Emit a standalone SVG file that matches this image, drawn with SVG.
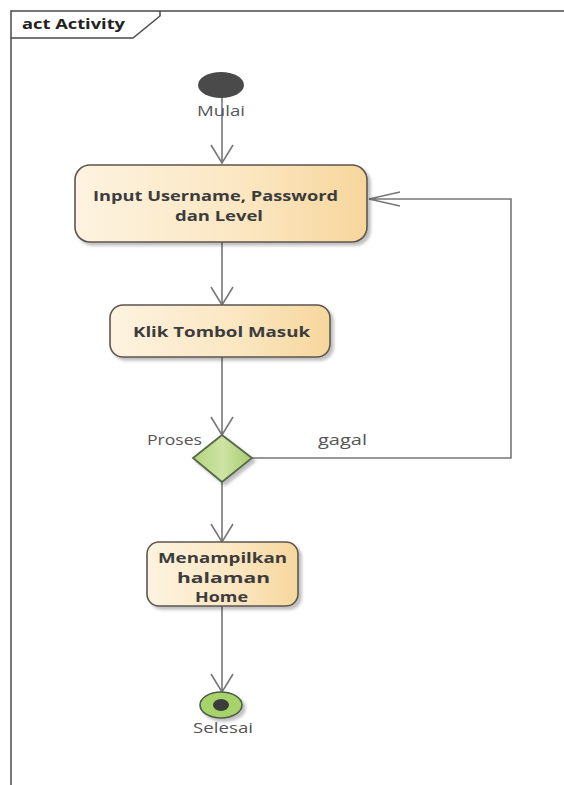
<svg xmlns="http://www.w3.org/2000/svg" width="564" height="785" viewBox="0 0 564 785">
<defs>
<linearGradient id="act" x1="0" y1="0" x2="1" y2="0">
<stop offset="0" stop-color="#fdf3e0"/>
<stop offset="0.6" stop-color="#fbe6c0"/>
<stop offset="1" stop-color="#f6d69c"/>
</linearGradient>
<linearGradient id="dec" x1="0" y1="0" x2="1" y2="0">
<stop offset="0" stop-color="#b5d47c"/>
<stop offset="0.5" stop-color="#cde3a4"/>
<stop offset="1" stop-color="#a8cc6c"/>
</linearGradient>
<filter id="sh" x="-10%" y="-10%" width="130%" height="130%">
<feDropShadow dx="3" dy="3" stdDeviation="1.5" flood-color="#000" flood-opacity="0.25"/>
</filter>
</defs>
<style>
.frame{fill:none;stroke:#4a4a4a;stroke-width:1.5}
.box{fill:url(#act);stroke:#5c5650;stroke-width:1.6;filter:url(#sh)}
.conn{fill:none;stroke:#777;stroke-width:1.6}
.lbl{font-family:"Open Sans","Noto Sans",sans-serif;font-weight:bold;font-size:14.5px;fill:#3c3c3c}
.txt{font-family:"Open Sans","Noto Sans",sans-serif;font-size:15px;fill:#555}
</style>
<rect width="564" height="785" fill="#fff"/>
<g id="frame">
<path class="frame" d="M11,785 V11 H564"/>
<path class="frame" d="M11,38 H133 L160,16 V11"/>
<text x="22" y="29" textLength="103" lengthAdjust="spacingAndGlyphs" style="font-family:'Open Sans','Noto Sans',sans-serif;font-weight:bold;font-size:14.5px;fill:#222">act Activity</text>
</g>
<g id="connectors">
<path class="conn" d="M222,97 V163 M211,145 L222,163 L233,145"/>
<path class="conn" d="M222,242 V305 M211,287 L222,305 L233,287"/>
<path class="conn" d="M222,357 V435 M211,417 L222,435 L233,417"/>
<path class="conn" d="M222,482 V542 M211,524 L222,542 L233,524"/>
<path class="conn" d="M222,606 V692 M211,674 L222,692 L233,674"/>
<path class="conn" d="M252,458 H511 V199 H369 M400,192 L369,199 L400,206"/>
<text class="txt" x="318" y="445" textLength="49" lengthAdjust="spacingAndGlyphs">gagal</text>
</g>
<g id="start">
<ellipse cx="221" cy="85" rx="23" ry="13" fill="#4a4a4a"/>
<text class="txt" x="197" y="116" textLength="48" lengthAdjust="spacingAndGlyphs">Mulai</text>
</g>
<g id="input">
<rect class="box" x="75" y="165" width="292" height="77" rx="15"/>
<text class="lbl" x="93" y="201" textLength="245" lengthAdjust="spacingAndGlyphs">Input Username, Password</text>
<text class="lbl" x="175" y="221" textLength="88" lengthAdjust="spacingAndGlyphs">dan Level</text>
</g>
<g id="klik">
<rect class="box" x="110" y="305" width="220" height="52" rx="13"/>
<text class="lbl" x="133" y="337" textLength="177" lengthAdjust="spacingAndGlyphs">Klik Tombol Masuk</text>
</g>
<g id="proses">
<polygon points="222,435 252,458 222,482 193,458" fill="url(#dec)" stroke="#56684a" stroke-width="1.8" filter="url(#sh)"/>
<text class="txt" x="147" y="445" textLength="55" lengthAdjust="spacingAndGlyphs">Proses</text>
</g>
<g id="home">
<rect class="box" x="147" y="542" width="151" height="64" rx="12"/>
<text class="lbl" x="158" y="563" textLength="129" lengthAdjust="spacingAndGlyphs">Menampilkan</text>
<text class="lbl" x="177" y="583" textLength="93" lengthAdjust="spacingAndGlyphs">halaman</text>
<text class="lbl" x="195" y="602" textLength="53" lengthAdjust="spacingAndGlyphs">Home</text>
</g>
<g id="selesai">
<ellipse cx="221" cy="705" rx="21" ry="13" fill="#a6d46a" stroke="#4f5a48" stroke-width="1.6" filter="url(#sh)"/>
<ellipse cx="221" cy="705" rx="8" ry="6" fill="#3c3c3c"/>
<text class="txt" x="193" y="733" textLength="60" lengthAdjust="spacingAndGlyphs">Selesai</text>
</g>
</svg>
